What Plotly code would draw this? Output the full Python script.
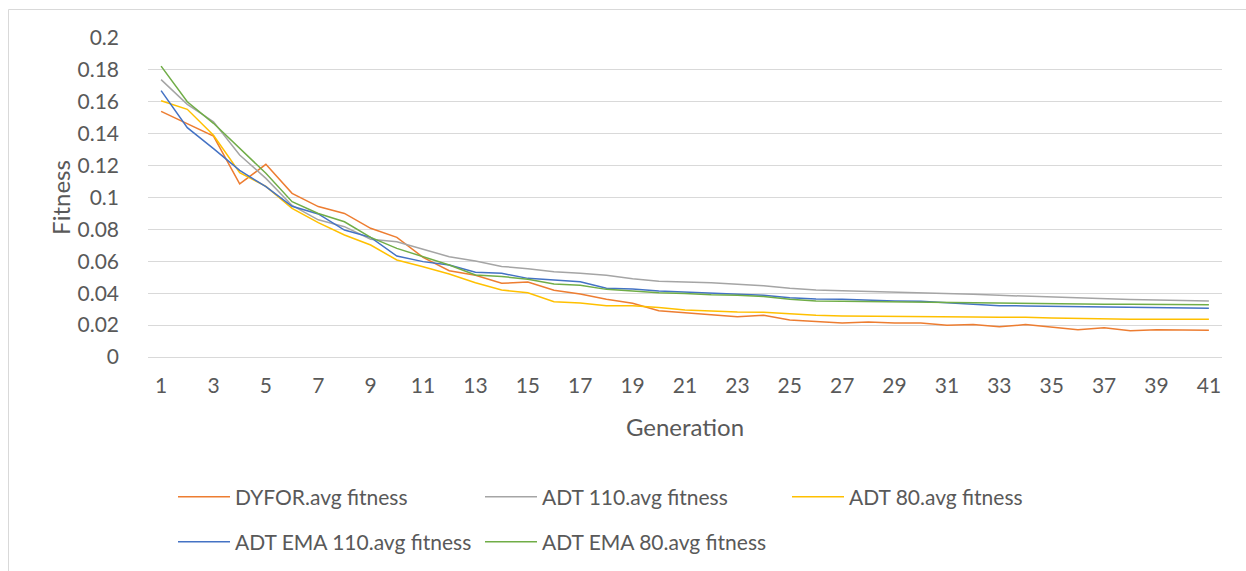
import plotly.graph_objects as go

generations = list(range(1, 42))
tick_labels = [str(g) for g in range(1, 42, 2)]

dyfor = [0.154, 0.1465, 0.1385, 0.1085, 0.1208, 0.1026, 0.0943, 0.090, 0.0807, 0.075,
         0.0625, 0.0541, 0.0512, 0.0462, 0.047, 0.0418, 0.0395, 0.0362, 0.0337, 0.029,
         0.0278, 0.0267, 0.0253, 0.0261, 0.0232, 0.0223, 0.0213, 0.0219, 0.0213, 0.0213,
         0.0199, 0.0203, 0.019, 0.0203, 0.0186, 0.0171, 0.0184, 0.0165, 0.0171, 0.0167, 0.0167]
adt110 = [0.1739, 0.1584, 0.1475, 0.1266, 0.112, 0.095, 0.086, 0.0817, 0.0738, 0.0723,
          0.0675, 0.0629, 0.0602, 0.0568, 0.0554, 0.0535, 0.0525, 0.0512, 0.0491, 0.0475,
          0.0471, 0.0466, 0.0456, 0.0447, 0.0431, 0.042, 0.0416, 0.0412, 0.0405, 0.0401,
          0.0397, 0.0393, 0.0387, 0.0382, 0.0374, 0.0368, 0.0364, 0.036, 0.0358, 0.0353, 0.0351]
adt80 = [0.1607, 0.1553, 0.139, 0.1155, 0.107, 0.0932, 0.0842, 0.0765, 0.0702, 0.0608,
         0.0566, 0.052, 0.0466, 0.042, 0.0403, 0.0347, 0.0339, 0.0322, 0.0322, 0.0311,
         0.0295, 0.0287, 0.0282, 0.028, 0.027, 0.0261, 0.0257, 0.0255, 0.0255, 0.0253,
         0.0251, 0.0251, 0.025, 0.025, 0.0245, 0.0241, 0.0236, 0.0236, 0.0236, 0.0236, 0.0236]
ema110 = [0.167, 0.1438, 0.1306, 0.117, 0.1068, 0.0945, 0.0897, 0.0796, 0.075, 0.0633,
          0.0598, 0.0577, 0.0531, 0.0525, 0.0493, 0.0483, 0.0472, 0.0431, 0.0426, 0.0414,
          0.0407, 0.04, 0.0393, 0.0387, 0.0372, 0.0364, 0.0362, 0.0355, 0.0351, 0.0349,
          0.0339, 0.0328, 0.0322, 0.032, 0.0318, 0.0318, 0.0316, 0.0314, 0.0311, 0.0307, 0.0305]
ema80 = [0.1824, 0.160, 0.1465, 0.1308, 0.1152, 0.0974, 0.090, 0.0848, 0.075, 0.0681,
         0.0629, 0.0577, 0.0514, 0.0505, 0.0487, 0.0458, 0.045, 0.0424, 0.0414, 0.0403,
         0.0398, 0.039, 0.0387, 0.038, 0.0362, 0.0351, 0.0349, 0.0347, 0.0345, 0.0345,
         0.034, 0.0337, 0.0335, 0.0335, 0.0332, 0.0332, 0.033, 0.033, 0.0328, 0.0328, 0.0328]

series = [
    ("DYFOR.avg fitness", dyfor, "#ED7D31", "legend"),
    ("ADT 110.avg fitness", adt110, "#A5A5A5", "legend2"),
    ("ADT 80.avg fitness", adt80, "#FFC000", "legend3"),
    ("ADT EMA 110.avg fitness", ema110, "#4472C4", "legend4"),
    ("ADT EMA 80.avg fitness", ema80, "#70AD47", "legend5"),
]

# figure slightly taller than the 571px window; the part below is cropped
W, H = 1246, 600
L, R, T, B = 148, 24, 38, 243
pw, ph = W - L - R, H - T - B

def px_x(p):
    return (p - L) / pw

def px_y(p):
    return (H - B - p) / ph

fig = go.Figure()
for name, vals, color, leg in series:
    fig.add_trace(go.Scatter(x=generations, y=vals, name=name, mode="lines",
                             line=dict(color=color, width=1.5), legend=leg,
                             showlegend=True))

FONT = "Lato"
TXT = "#595959"
legend_common = dict(orientation="v", xanchor="left", yanchor="middle",
                     font=dict(family=FONT, size=21, color=TXT),
                     bgcolor="rgba(0,0,0,0)", borderwidth=0, itemwidth=52)
col_x = [173, 480, 787]
row_y = [497, 542]
fig.update_layout(
    showlegend=True,
    legend=dict(x=px_x(col_x[0]), y=px_y(row_y[0]), **legend_common),
    legend2=dict(x=px_x(col_x[1]), y=px_y(row_y[0]), **legend_common),
    legend3=dict(x=px_x(col_x[2]), y=px_y(row_y[0]), **legend_common),
    legend4=dict(x=px_x(col_x[0]), y=px_y(row_y[1]), **legend_common),
    legend5=dict(x=px_x(col_x[1]), y=px_y(row_y[1]), **legend_common),
)

fig.update_layout(
    width=W, height=H,
    margin=dict(l=L, r=R, t=T, b=B, pad=0),
    paper_bgcolor="white", plot_bgcolor="white",
    font=dict(family=FONT, size=21, color=TXT),
    xaxis=dict(range=[0.5, 41.5], tickmode="array",
               tickvals=list(range(1, 42, 2)), ticktext=tick_labels,
               showgrid=False, zeroline=False, showline=True,
               linecolor="#D9D9D9", linewidth=1, ticks="",
               ticklabelstandoff=10,
               tickfont=dict(family=FONT, size=21, color=TXT),
               title=dict(text="Generation", font=dict(family=FONT, size=24, color=TXT), standoff=22)),
    yaxis=dict(range=[0, 0.2], dtick=0.02, tick0=0, tickformat="",
               showgrid=True, gridcolor="#D9D9D9", gridwidth=1.2,
               zeroline=False, showline=False, ticks="",
               ticklabelstandoff=28,
               tickfont=dict(family=FONT, size=21, color=TXT),
               title=dict(text="Fitness", font=dict(family=FONT, size=24, color=TXT), standoff=0)),
)

fig.add_shape(type="rect", xref="paper", yref="paper",
              x0=px_x(8.5), x1=px_x(1300), y0=px_y(640), y1=px_y(9.5),
              line=dict(color="#D9D9D9", width=1), fillcolor="rgba(0,0,0,0)", layer="below")

fig.write_html("out.html", config={"displayModeBar": False},
               post_script="document.body.style.margin='0';document.body.style.overflow='hidden';")
